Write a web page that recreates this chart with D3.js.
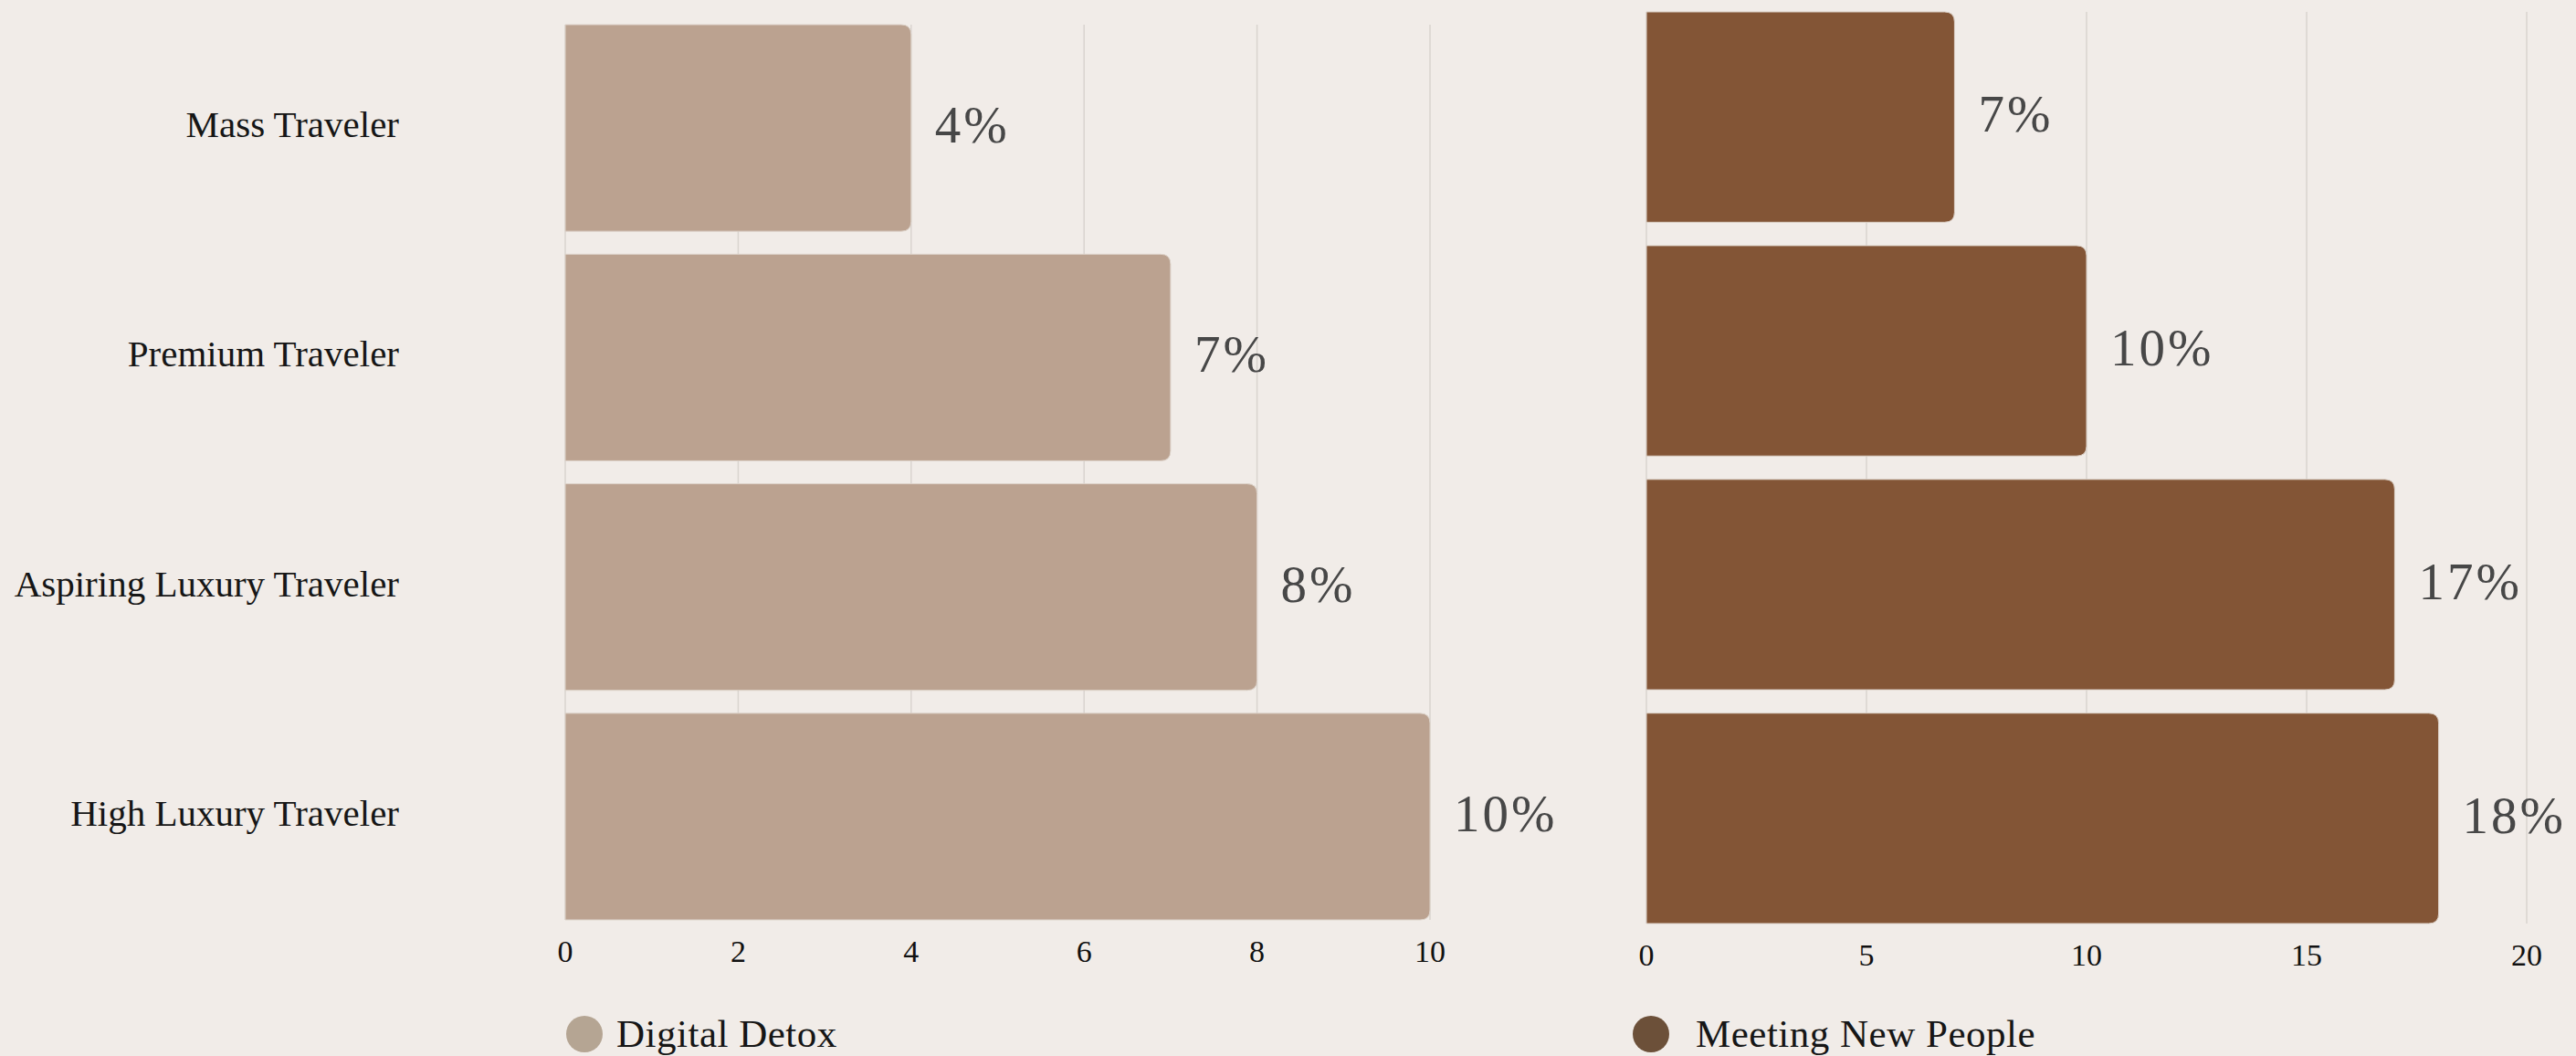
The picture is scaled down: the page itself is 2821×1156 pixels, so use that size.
<!DOCTYPE html>
<html lang="en">
<head>
  <meta charset="UTF-8">
  <title>Traveler motivations</title>
  <style>
    body { margin: 0; background: #f1ece8; }
    svg { display: block; font-family: 'Liberation Serif', 'DejaVu Serif', serif; }
    .cat { font-size: 41px; fill: #161616; text-anchor: end; }
    .tick-label { font-size: 34px; fill: #111; text-anchor: middle; }
    .value { font-size: 57px; fill: #474747; letter-spacing: 3px; }
    .legend { font-size: 43px; fill: #161616; letter-spacing: 0.5px; }
    .grid { stroke: #d9d4cf; stroke-width: 1.5; }
  </style>
</head>
<body>
  <svg width="2821" height="1156"></svg>
  <script src="https://cdn.jsdelivr.net/npm/d3@7"></script>
  <script>
    var categories = ['Mass Traveler', 'Premium Traveler', 'Aspiring Luxury Traveler', 'High Luxury Traveler']
    var detoxValues = [4, 7, 8, 10]
    var meetingValues = [7, 10, 17, 18]
    var detoxTicks = [0, 2, 4, 6, 8, 10]
    var meetingTicks = [0, 5, 10, 15, 20]
    var seriesNames = ['Digital Detox', 'Meeting New People']

    var svg = d3.select('svg')

    svg.append('rect')
      .attr('width', 2821)
      .attr('height', 1156)
      .attr('fill', '#f1ece8')

    // bar with square left side and rounded right corners
    function barPath(x0, x1, y, h, r) {
      r = Math.min(r, (x1 - x0) / 2, h / 2)
      return 'M' + x0 + ',' + y +
        'H' + (x1 - r) +
        'Q' + x1 + ',' + y + ' ' + x1 + ',' + (y + r) +
        'V' + (y + h - r) +
        'Q' + x1 + ',' + (y + h) + ' ' + (x1 - r) + ',' + (y + h) +
        'H' + x0 + 'Z'
    }

    function panel(opts) {
      var x = d3.scaleLinear().domain(opts.domain).range(opts.xRange)
      var y = d3.scaleBand().domain(categories).range(opts.yRange).paddingInner(0.1).paddingOuter(0)
      var g = svg.append('g')

      g.selectAll('.grid')
        .data(opts.ticks)
        .enter()
        .append('line')
        .attr('class', 'grid')
        .attr('x1', function(d) { return x(d) })
        .attr('x2', function(d) { return x(d) })
        .attr('y1', opts.yRange[0])
        .attr('y2', opts.yRange[1])

      g.selectAll('.bar')
        .data(opts.values)
        .enter()
        .append('path')
        .attr('class', 'bar')
        .attr('d', function(d, i) {
          return barPath(x(0), x(d), y(categories[i]), y.bandwidth(), 11)
        })
        .attr('fill', opts.color)
        .attr('stroke', '#ddd3ca')
        .attr('stroke-width', 1)

      g.selectAll('.value')
        .data(opts.values)
        .enter()
        .append('text')
        .attr('class', 'value')
        .attr('x', function(d) { return x(d) + 26 })
        .attr('y', function(d, i) { return y(categories[i]) + y.bandwidth() / 2 + 16 })
        .text(function(d) { return d + '%' })

      g.selectAll('.tick-label')
        .data(opts.ticks)
        .enter()
        .append('text')
        .attr('class', 'tick-label')
        .attr('x', function(d) { return x(d) })
        .attr('y', opts.tickY)
        .text(function(d) { return d })

      var lg = g.append('g')
        .attr('transform', 'translate(' + opts.legendX + ',1132)')
      lg.append('circle')
        .attr('r', 20)
        .attr('fill', opts.legendColor)
      lg.append('text')
        .attr('class', 'legend')
        .attr('x', opts.legendTextDx)
        .attr('y', 14)
        .text(opts.name)

      return y
    }

    var yLeft = panel({
      domain: [0, 10],
      xRange: [619, 1566],
      yRange: [27, 1007],
      ticks: detoxTicks,
      values: detoxValues,
      color: '#bba290',
      legendColor: '#b5a593',
      legendX: 640,
      legendTextDx: 35,
      tickY: 1053,
      name: seriesNames[0]
    })

    panel({
      domain: [0, 20],
      xRange: [1803, 2767],
      yRange: [13, 1011],
      ticks: meetingTicks,
      values: meetingValues,
      color: '#835536',
      legendColor: '#6c5039',
      legendX: 1808,
      legendTextDx: 49,
      tickY: 1057,
      name: seriesNames[1]
    })

    svg.append('g')
      .selectAll('text')
      .data(categories)
      .enter()
      .append('text')
      .attr('class', 'cat')
      .attr('x', 437)
      .attr('y', function(d) { return yLeft(d) + yLeft.bandwidth() / 2 + 10 })
      .text(function(d) { return d })
  </script>
</body>
</html>
